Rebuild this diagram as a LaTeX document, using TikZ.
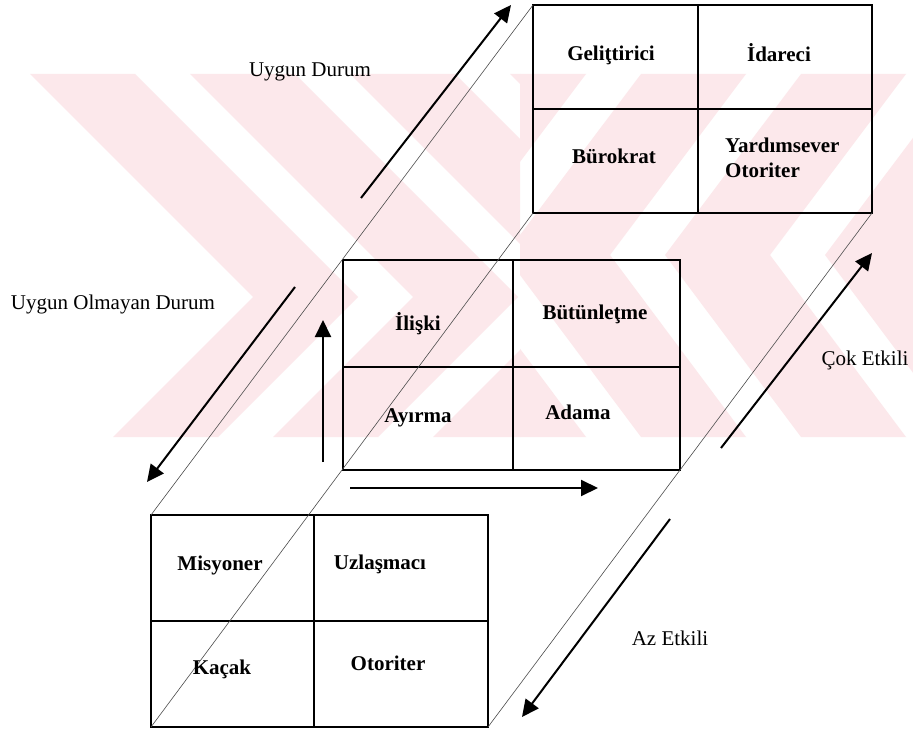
\documentclass[tikz,border=0pt]{standalone}
\usepackage{fontspec}
\setmainfont{Liberation Serif}
\usetikzlibrary{arrows.meta,calc}
\definecolor{wmpink}{RGB}{252,232,235}

\begin{document}
\begin{tikzpicture}[x=1pt,y=-1pt,
  quad/.style={draw, line width=1.8pt, rectangle, inner sep=0pt, outer sep=0pt,
               minimum width=339pt, minimum height=208pt},
  divider/.style={line width=1.8pt},
  cell/.style={font=\fontsize{21}{25}\selectfont\bfseries, inner sep=0pt,
               text height=14pt, text depth=4pt},
  lbl/.style={font=\fontsize{21}{25}\selectfont, inner sep=0pt,
              text height=14pt, text depth=4pt},
  guide/.style={line width=0.6pt, black!70},
  bigarrow/.style={line width=2pt, -{Triangle[length=17pt,width=16pt]}}]

\useasboundingbox (0,0) rectangle (913,730);
\fill[white] (0,0) rectangle (913,730);

% light striped emblem behind the diagram
\begin{scope}
  \clip (0,74) rectangle (520,437);
  \foreach \a in {253,413,573,733} {
    \fill[wmpink] ({\a-223},74) -- ({\a+105-223},74) -- ({\a+105},297)
      -- ({\a+105-140},437) -- ({\a-140},437) -- (\a,297) -- cycle;
  }
\end{scope}
\begin{scope}
  \clip (520,74) rectangle (913,437);
  \foreach \s in {345,505,665,825} {
    \fill[wmpink] ({\s+136},74) -- ({\s+105+136},74) -- ({\s+105},255)
      -- ({\s+105+136},437) -- ({\s+136},437) -- (\s,255) -- cycle;
  }
\end{scope}

% the three two-by-two grids
\node[quad] (T) at (702.5,109) {};
\node[quad, minimum width=337pt, minimum height=210pt] (M) at (511.5,365) {};
\node[quad, minimum width=337pt, minimum height=212pt] (B) at (319.5,621) {};

\draw[divider] ($(T.north west)!0.487!(T.north east)$) -- ($(T.south west)!0.487!(T.south east)$);
\draw[divider] (T.west) -- (T.east);
\draw[divider] ($(M.north west)!0.504!(M.north east)$) -- ($(M.south west)!0.504!(M.south east)$);
\draw[divider] ($(M.north west)!0.51!(M.south west)$) -- ($(M.north east)!0.51!(M.south east)$);
\draw[divider] ($(B.north west)!0.484!(B.north east)$) -- ($(B.south west)!0.484!(B.south east)$);
\draw[divider] (B.west) -- (B.east);

% thin edges of the prism joining the grids
\draw[guide] (B.north west) -- (T.north west);
\draw[guide] (B.south west) -- (T.south west);
\draw[guide] (B.south east) -- (T.south east);

% arrow end points
\coordinate (ud1) at (361,198);  \coordinate (ud2) at (511,5);
\coordinate (uo1) at (295,287);  \coordinate (uo2) at (147,482);
\coordinate (v1)  at (323,462);  \coordinate (v2)  at (323,320);
\coordinate (h1)  at (350,488);  \coordinate (h2)  at (598,488);
\coordinate (ce1) at (721,448);  \coordinate (ce2) at (872,253);
\coordinate (az1) at (670,519);  \coordinate (az2) at (522,717);

\draw[bigarrow] (ud1) -- (ud2);
\draw[bigarrow] (uo1) -- (uo2);
\draw[bigarrow] (v1) -- (v2);
\draw[bigarrow] (h1) -- (h2);
\draw[bigarrow] (ce1) -- (ce2);
\draw[bigarrow] (az1) -- (az2);

% cell texts
\node[cell] (t1) at (611,56) {Geliţtirici};
\node[cell] (t2) at (779,57) {İdareci};
\node[cell] (t3) at (614,159) {Bürokrat};
\node[cell, align=left, anchor=west, text height=, text depth=] (t4) at (725,158) {Yardımsever\\Otoriter};
\node[cell] (m1) at (418,325) {İlişki};
\node[cell] (m2) at (595,314) {Bütünleţme};
\node[cell] (m3) at (418,417) {Ayırma};
\node[cell] (m4) at (578,414) {Adama};
\node[cell] (b1) at (220,565) {Misyoner};
\node[cell] (b2) at (380,564) {Uzlaşmacı};
\node[cell] (b3) at (222,669) {Kaçak};
\node[cell] (b4) at (388,665) {Otoriter};

% axis labels
\node[lbl] (l1) at (310,72) {Uygun Durum};
\node[lbl] (l2) at (113,304) {Uygun Olmayan Durum};
\node[lbl] (l3) at (865,360) {Çok Etkili};
\node[lbl] (l4) at (670,640) {Az Etkili};
\end{tikzpicture}
\end{document}
